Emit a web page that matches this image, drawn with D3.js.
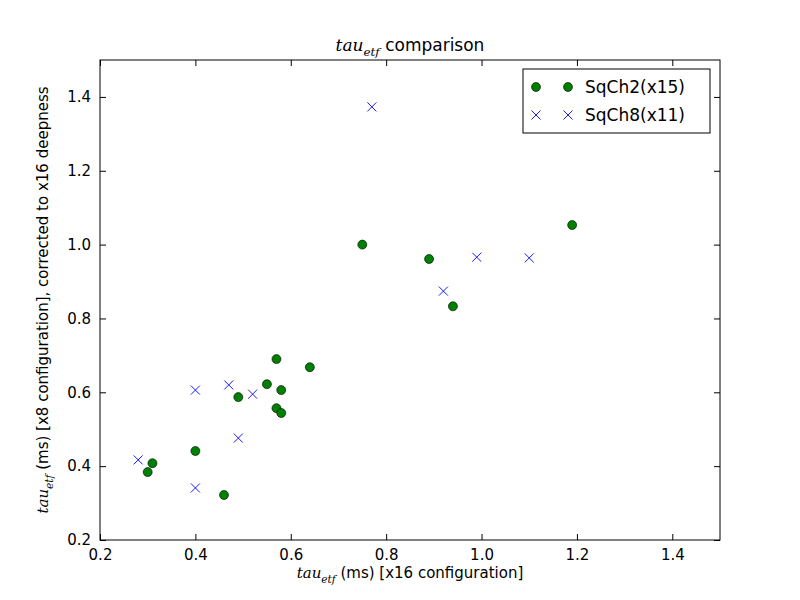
<!DOCTYPE html>
<html><head><meta charset="utf-8">
<script src="https://cdn.jsdelivr.net/npm/d3@7"></script>
<style>body{margin:0;background:#fff;font-family:"DejaVu Sans",sans-serif;}</style>
</head><body><div id="chart"></div>
<script>
const sqch2X = [0.30, 0.31, 0.40, 0.46, 0.49, 0.55, 0.57, 0.57, 0.58, 0.58, 0.64, 0.75, 0.89, 0.94, 1.19];
const sqch2Y = [0.384, 0.408, 0.441, 0.322, 0.587, 0.622, 0.690, 0.557, 0.606, 0.544, 0.668, 1.000, 0.961, 0.833, 1.053];
const sqch8X = [0.28, 0.40, 0.40, 0.47, 0.52, 0.49, 0.77, 0.92, 0.99, 1.10];
const sqch8Y = [0.417, 0.606, 0.341, 0.620, 0.595, 0.476, 1.373, 0.874, 0.966, 0.964];
const ticks = [0.2, 0.4, 0.6, 0.8, 1.0, 1.2, 1.4];

const margin = {top: 60, right: 80, bottom: 60, left: 100},
  width = 800 - margin.left - margin.right,
  height = 600 - margin.top - margin.bottom;

const svg = d3.select("#chart").append("svg").attr("width", 800).attr("height", 600);
const g = svg.append("g").attr("transform", `translate(${margin.left},${margin.top})`);

const x = d3.scaleLinear().domain([0.2, 1.5]).range([0, width]);
const y = d3.scaleLinear().domain([0.2, 1.5]).range([height, 0]);

function styleAxis(sel) {
  sel.selectAll("text").attr("font-size", 15).attr("font-family", "DejaVu Sans").attr("fill", "#000");
  sel.select(".domain").remove();
}
g.append("g").attr("transform", `translate(0,${height})`)
  .call(d3.axisBottom(x).tickValues(ticks).tickFormat(d3.format(".1f")).tickSizeInner(-6).tickPadding(9)).call(styleAxis);
g.append("g").attr("transform", `translate(0,0)`)
  .call(d3.axisTop(x).tickValues(ticks).tickFormat("").tickSizeInner(-6)).call(styleAxis);
g.append("g").call(d3.axisLeft(y).tickValues(ticks).tickFormat(d3.format(".1f")).tickSizeInner(-6).tickPadding(9)).call(styleAxis);
g.append("g").attr("transform", `translate(${width},0)`)
  .call(d3.axisRight(y).tickValues(ticks).tickFormat("").tickSizeInner(-6)).call(styleAxis);
g.append("rect").attr("width", width).attr("height", height).attr("fill", "none").attr("stroke", "#000");

// green circles
g.selectAll(".c2").data(sqch2X.map((v, i) => [v, sqch2Y[i]])).enter().append("circle")
  .attr("cx", d => x(d[0])).attr("cy", d => y(d[1])).attr("r", 4.5)
  .attr("fill", "#008000").attr("stroke", "#000").attr("stroke-width", 0.6);
// blue crosses
const s = 4.5;
g.selectAll(".c8").data(sqch8X.map((v, i) => [v, sqch8Y[i]])).enter().append("path")
  .attr("d", d => { const cx = x(d[0]), cy = y(d[1]);
    return `M${cx-s},${cy-s}L${cx+s},${cy+s}M${cx-s},${cy+s}L${cx+s},${cy-s}`; })
  .attr("stroke", "#0000ff").attr("stroke-width", 0.9).attr("fill", "none");

function tauLabel(t, suffix, size) {
  t.append("tspan").attr("font-family", "DejaVu Serif").attr("font-style", "italic").text("tau");
  t.append("tspan").attr("font-family", "DejaVu Serif").attr("font-style", "italic")
    .attr("font-size", size * 0.7).attr("dy", size * 0.3).text("etf");
  t.append("tspan").attr("dy", -size * 0.3).text(suffix);
}
const title = g.append("text").attr("x", width / 2).attr("y", -9).attr("text-anchor", "middle").attr("font-size", 17);
tauLabel(title, " comparison", 17);
const xl = g.append("text").attr("x", width / 2).attr("y", height + 38).attr("text-anchor", "middle").attr("font-size", 15);
tauLabel(xl, " (ms) [x16 configuration]", 15);
const yl = g.append("text").attr("transform", `translate(-52,${height / 2}) rotate(-90)`).attr("text-anchor", "middle").attr("font-size", 15);
tauLabel(yl, " (ms) [x8 configuration], corrected to x16 deepness", 15);

// legend
const lg = g.append("g").attr("transform", `translate(${width - 197},9)`);
lg.append("rect").attr("width", 187).attr("height", 64).attr("fill", "#fff").attr("stroke", "#000");
[["SqCh2(x15)", "c"], ["SqCh8(x11)", "x"]].forEach((d, i) => {
  const yy = 18 + i * 28;
  [13, 45].forEach(px => {
    if (d[1] === "c") lg.append("circle").attr("cx", px).attr("cy", yy).attr("r", 4.5).attr("fill", "#008000").attr("stroke", "#000").attr("stroke-width", 0.6);
    else lg.append("path").attr("d", `M${px-s},${yy-s}L${px+s},${yy+s}M${px-s},${yy+s}L${px+s},${yy-s}`).attr("stroke", "#0000ff").attr("stroke-width", 0.9);
  });
  lg.append("text").attr("x", 62).attr("y", yy + 6).attr("font-size", 17).text(d[0]);
});
</script></body></html>
